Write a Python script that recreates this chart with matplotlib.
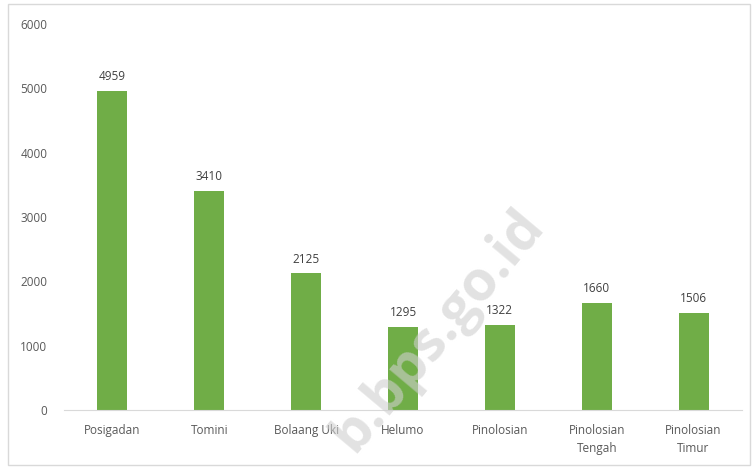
import matplotlib.pyplot as plt
import numpy as np

# --- datos ---
kecamatan = ['Posigadan', 'Tomini', 'Bolaang Uki', 'Helumo', 'Pinolosian',
             'Pinolosian\nTengah', 'Pinolosian\nTimur']
nilai = [4959, 3410, 2125, 1295, 1322, 1660, 1506]
yticks = [0, 1000, 2000, 3000, 4000, 5000, 6000]

plt.rcParams['font.family'] = ['Open Sans', 'DejaVu Sans']
abu = '#595959'

fig = plt.figure(figsize=(7.55, 4.69), dpi=100)
ax = fig.add_axes([64 / 755, 59 / 469, 678 / 755, 386 / 469])

x = np.arange(len(kecamatan))
bars = ax.bar(x, nilai, width=0.31, color='#70AD47')

for b, v in zip(bars, nilai):
    ax.text(b.get_x() + b.get_width() / 2, v + 120, str(v),
            ha='center', va='bottom', fontsize=8.5, color='#404040')

ax.set_xlim(-0.5, len(kecamatan) - 0.5)
ax.set_ylim(0, 6000)
ax.set_yticks(yticks)
ax.set_yticklabels([str(t) for t in yticks], fontsize=8.5, color=abu)
ax.set_xticks(x)
ax.set_xticklabels(kecamatan, fontsize=8.5, color=abu, linespacing=1.5)
ax.tick_params(length=0, pad=10)
ax.tick_params(axis='y', pad=12)

for s in ['top', 'right', 'left']:
    ax.spines[s].set_visible(False)
ax.spines['bottom'].set_color('#d9d9d9')

# marco exterior
fig.patches.append(plt.Rectangle((8 / 755, 4 / 469), 742 / 755, 461 / 469,
                                 transform=fig.transFigure, fill=False,
                                 edgecolor='#d9d9d9', linewidth=1))

# marca de agua
fig.text(438 / 755, 1 - 330 / 469, 'b.bps.go.id', fontsize=40, fontweight='bold',
         color='#cfcfcf', alpha=0.6, rotation=50, ha='center', va='center')

fig.savefig('out.png', dpi=100)
